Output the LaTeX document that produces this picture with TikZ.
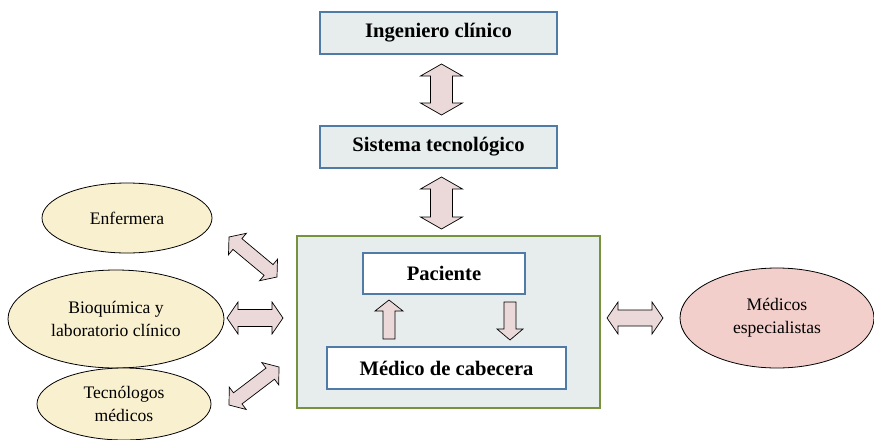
\documentclass[tikz,border=0pt]{standalone}
\usepackage{fontspec}
\setmainfont{Liberation Serif}
\usetikzlibrary{calc,shapes.geometric}
\definecolor{boxfill}{HTML}{E7EDED}
\definecolor{boxline}{HTML}{4F7BA6}
\definecolor{bigline}{HTML}{76923C}
\definecolor{creamfill}{HTML}{F9F0CF}
\definecolor{pinkfill}{HTML}{F3CFCB}
\definecolor{arrfill}{HTML}{EBD8D8}
\tikzset{
  topbox/.style={draw=boxline, line width=1.2pt, fill=boxfill, minimum width=237pt, minimum height=42pt, inner sep=0pt, font=\bfseries\fontsize{20.6}{24}\selectfont},
  innerbox/.style={draw=boxline, line width=1.2pt, fill=white, minimum height=42pt, inner sep=0pt, font=\bfseries\fontsize{20.6}{24}\selectfont},
  bigbox/.style={draw=bigline, line width=2pt, fill=boxfill, minimum width=303pt, minimum height=172pt, inner sep=0pt},
  oval/.style={ellipse, draw=black, line width=0.8pt, inner sep=0pt, align=center, font=\fontsize{17.6}{23}\selectfont},
  blockarr/.style={draw=black, line width=0.7pt, fill=arrfill, line join=miter},
}
% double block arrow between two coordinates: #1,#2 ends; #3 head length; #4 half head width; #5 half shaft width
\newcommand\dblblock[5]{%
  \draw[blockarr] (#1)
   -- ($(#1)!#3!(#2)!#4!90:(#1)$) -- ($(#1)!#3!(#2)!#5!90:(#1)$)
   -- ($(#2)!#3!(#1)!#5!-90:(#2)$) -- ($(#2)!#3!(#1)!#4!-90:(#2)$)
   -- (#2)
   -- ($(#2)!#3!(#1)!#4!90:(#2)$) -- ($(#2)!#3!(#1)!#5!90:(#2)$)
   -- ($(#1)!#3!(#2)!#5!-90:(#1)$) -- ($(#1)!#3!(#2)!#4!-90:(#1)$)
   -- cycle;}
% single block arrow: tail at #1, tip at #2
\newcommand\oneblock[5]{%
  \draw[blockarr] (#2)
   -- ($(#2)!#3!(#1)!#4!90:(#2)$) -- ($(#2)!#3!(#1)!#5!90:(#2)$)
   -- ($(#1)!#5!90:(#2)$) -- ($(#1)!#5!-90:(#2)$)
   -- ($(#2)!#3!(#1)!#5!-90:(#2)$) -- ($(#2)!#3!(#1)!#4!-90:(#2)$)
   -- cycle;}
\begin{document}
\begin{tikzpicture}[x=1pt,y=-1pt]
\useasboundingbox (0,0) rectangle (874,439);
% boxes
\node[topbox] (ing) at (438.5,33) {Ingeniero clínico};
\node[topbox] (sis) at (438.5,147) {Sistema tecnológico};
\node[bigbox] (big) at (448.5,322) {};
\node[innerbox, minimum width=162pt, minimum height=41pt] (pac) at (444,273.5) {Paciente};
\node[innerbox, minimum width=239pt] (med) at (446.5,368) {Médico de cabecera};
% ellipses
\node[oval, fill=creamfill, minimum width=170pt, minimum height=70pt] (enf) at (127,218) {Enfermera};
\node[oval, fill=creamfill, minimum width=216pt, minimum height=98pt] (bio) at (116,319) {Bioquímica y\\laboratorio clínico};
\node[oval, fill=creamfill, minimum width=174pt, minimum height=72pt] (tec) at (124,404) {Tecnólogos\\médicos};
\node[oval, fill=pinkfill, minimum width=194pt, minimum height=100pt] (esp) at (777,318) {Médicos\\especialistas};
% arrow end points
\coordinate (a1s) at (441.5,64);  \coordinate (a1e) at (441.5,115);
\coordinate (a2s) at (441.5,177); \coordinate (a2e) at (441.5,229);
\coordinate (ups) at (389,339);   \coordinate (upe) at (389,300);
\coordinate (dns) at (510,302);   \coordinate (dne) at (510,340);
\coordinate (lhs) at (227,318);   \coordinate (lhe) at (283,318);
\coordinate (rhs) at (607,318);   \coordinate (rhe) at (663,318);
\coordinate (dts) at (229,237);   \coordinate (dte) at (277,277);
\coordinate (dbs) at (229,405);   \coordinate (dbe) at (279,367);
% arrows
\dblblock{a1s}{a1e}{12pt}{21pt}{11pt}
\dblblock{a2s}{a2e}{12pt}{21pt}{11pt}
\oneblock{ups}{upe}{11pt}{14pt}{6pt}
\oneblock{dns}{dne}{11pt}{13pt}{6pt}
\dblblock{lhs}{lhe}{11pt}{16pt}{8.5pt}
\dblblock{rhs}{rhe}{11pt}{16pt}{8pt}
\dblblock{dts}{dte}{11pt}{14pt}{7pt}
\dblblock{dbs}{dbe}{11pt}{14pt}{7pt}
\end{tikzpicture}
\end{document}
